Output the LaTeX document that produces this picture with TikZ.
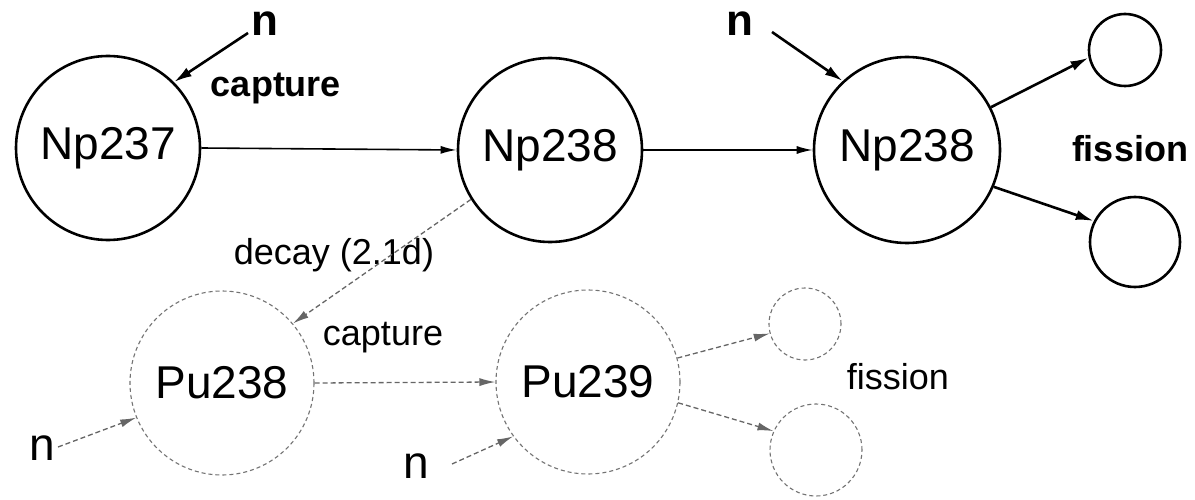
\documentclass[tikz,border=0pt]{standalone}
\usepackage{fontspec}
\setmainfont{Liberation Sans}
\usetikzlibrary{arrows.meta}
\begin{document}
\begin{tikzpicture}[x=1pt,y=-1pt,
  solidnuc/.style={circle,draw=black,line width=2.6pt,inner sep=0pt,font=\fontsize{46}{50}\selectfont},
  faintnuc/.style={circle,draw=black!55,line width=1.1pt,dash pattern=on 4pt off 3pt,inner sep=0pt,font=\fontsize{46}{50}\selectfont},
  boldlbl/.style={font=\bfseries\fontsize{36}{40}\selectfont,inner sep=0pt},
  lbl/.style={font=\fontsize{36}{40}\selectfont,inner sep=0pt},
  nbold/.style={font=\bfseries\fontsize{44}{48}\selectfont,inner sep=0pt},
  nreg/.style={font=\fontsize{46}{50}\selectfont,inner sep=0pt},
  thinarrow/.style={line width=1.6pt,-{Latex[length=16pt,width=8pt]}},
  thickarrow/.style={line width=2.6pt,-{Latex[length=18pt,width=10pt]}},
  faintarrow/.style={draw=black!60,line width=1.3pt,dash pattern=on 5pt off 3pt,-{Latex[length=16pt,width=8pt]}}
]
\useasboundingbox (0,0) rectangle (1195,500);

% upper row
\node[solidnuc,minimum size=184pt] (np237) at (108,148) {Np237};
\node[solidnuc,minimum size=184pt] (np238a) at (550,150) {Np238};
\node[solidnuc,minimum size=186pt] (np238b) at (907,150) {Np238};
\node[solidnuc,minimum size=72pt] (fa) at (1125,50) {};
\node[solidnuc,minimum size=90pt] (fb) at (1135,242) {};

\node[nbold] (n1) at (265,24) {n};
\node[nbold] (n2) at (740,24) {n};
\coordinate (n1s) at (248,33);
\coordinate (n2s) at (772,32);
\node[boldlbl] (cap1) at (276,88) {capture};
\node[boldlbl] (fis1) at (1130,149) {fission};

\draw[thickarrow] (n1s) -- (np237.45);
\draw[thickarrow] (n2s) -- (np238b.133);
\draw[thinarrow] (np237.east) -- (np238a.west);
\draw[thinarrow] (np238a.east) -- (np238b.west);
\draw[thickarrow] (np238b.27) -- (fa.192);
\draw[thickarrow] (np238b.-23) -- (fb.153);

% lower row
\node[faintnuc,minimum size=184pt] (pu238) at (222,383) {Pu238};
\node[faintnuc,minimum size=184pt] (pu239) at (588,382) {Pu239};
\node[faintnuc,minimum size=72pt] (fc) at (805,324) {};
\node[faintnuc,minimum size=92pt] (fd) at (816,450) {};

\node[nreg] (n3) at (42,448) {n};
\node[nreg] (n4) at (416,466) {n};
\coordinate (n3s) at (58,447);
\coordinate (n4s) at (452,464);
\node[lbl] (decay) at (334,255) {decay (2.1d)};
\node[lbl] (cap2) at (383,338) {capture};
\node[lbl] (fis2) at (898,377) {fission};

\draw[faintarrow] (np238a.212) -- (pu238.40);
\draw[faintarrow] (pu238.east) -- (pu239.west);
\draw[faintarrow] (n3s) -- (pu238.202);
\draw[faintarrow] (n4s) -- (pu239.216);
\draw[faintarrow] (pu239.15) -- (fc.195);
\draw[faintarrow] (pu239.-13) -- (fd.156);
\end{tikzpicture}
\end{document}
